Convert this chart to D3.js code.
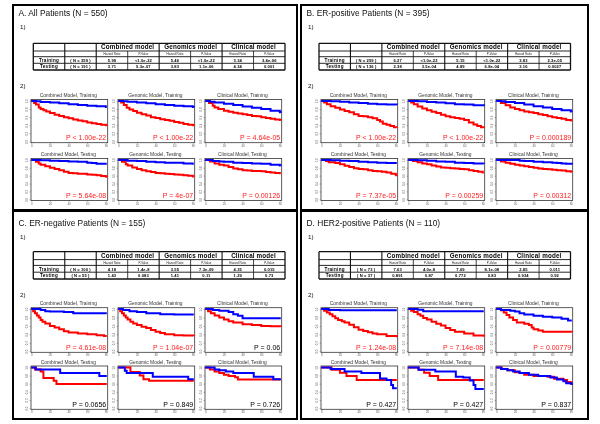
<!DOCTYPE html>
<html><head><meta charset="utf-8">
<script src="https://cdn.jsdelivr.net/npm/d3@7"></script>
<style>body{margin:0;background:#fff}svg{display:block;will-change:transform;-webkit-font-smoothing:antialiased}text{font-family:"Liberation Sans",Arial,sans-serif}</style>
</head><body><svg id="c" width="600" height="424"></svg>
<script>
// ---------------- DATA ----------------
const panelTitles = ["A. All Patients (N = 550)", "B. ER-positive Patients (N = 395)", "C. ER-negative Patients (N = 155)", "D. HER2-positive Patients (N = 110)"];
const modelNames = ["Combined model", "Genomics model", "Clinical model"];
const subHeaders = ["Hazard Ratio", "P-Value"];
const plotTitles = ["Combined Model, Training", "Genomic Model, Training", "Clinical Model, Training", "Combined Model, Testing", "Genomic Model, Testing", "Clinical Model, Testing"];
const xTicks = [0, 20, 40, 60, 80];
const yTicks = [0, 0.2, 0.4, 0.6, 0.8, 1.0];

const tableA = [["Training", "( N = 359 )", "5.99", "<1.0e-22", "5.46", "<1.0e-22", "3.34", "3.4e-06"],
                ["Testing", "( N = 191 )", "3.71", "5.3e-07", "3.83", "1.1e-06", "4.34", "0.001"]];
const tableB = [["Training", "( N = 259 )", "6.27", "<1.0e-22", "5.15", "<1.0e-22", "3.83", "2.3e-05"],
                ["Testing", "( N = 136 )", "2.38", "3.5e-04", "4.89", "6.8e-04", "3.16", "0.0027"]];
const tableC = [["Training", "( N = 100 )", "4.18", "1.4e-8", "3.55", "7.3e-09", "4.35", "0.015"],
                ["Testing", "( N = 55 )", "1.43", "0.083", "1.41", "0.11", "1.29", "0.73"]];
const tableD = [["Training", "( N = 73 )", "7.63", "4.0e-8", "7.69", "8.1e-08", "2.85", "0.011"],
                ["Testing", "( N = 37 )", "0.891", "0.87", "0.772", "0.83", "0.934", "0.92"]];

const pA = ["P < 1.00e-22", "P < 1.00e-22", "P = 4.64e-05", "P = 5.64e-08", "P = 4e-07", "P = 0.00126"];
const pB = ["P < 1.00e-22", "P < 1.00e-22", "P = 0.000189", "P = 7.37e-05", "P = 0.00259", "P = 0.00312"];
const pC = ["P = 4.61e-08", "P = 1.04e-07", "P = 0.06", "P = 0.0656", "P = 0.849", "P = 0.726"];
const pD = ["P = 1.24e-08", "P = 7.14e-08", "P = 0.00779", "P = 0.427", "P = 0.427", "P = 0.837"];

// survival curves [time, survival] : high-risk (red) and low-risk (blue)
const redA = [
 [[0,1],[3,0.95],[5,0.91],[8,0.84],[10,0.80],[13,0.77],[16,0.74],[20,0.70],[25,0.66],[30,0.63],[35,0.60],[40,0.57],[45,0.54],[50,0.52],[55,0.50],[60,0.47],[65,0.45],[70,0.43],[75,0.41],[80,0.40],[81,0.39]],
 [[0,1],[3,0.96],[6,0.90],[9,0.83],[12,0.79],[16,0.75],[20,0.71],[25,0.67],[30,0.64],[35,0.60],[40,0.58],[45,0.55],[50,0.53],[55,0.51],[60,0.48],[65,0.46],[70,0.43],[75,0.41],[80,0.40],[81,0.39]],
 [[0,1],[4,0.95],[8,0.88],[10,0.84],[14,0.80],[20,0.76],[25,0.73],[30,0.71],[35,0.69],[40,0.67],[45,0.65],[50,0.63],[55,0.62],[60,0.60],[65,0.58],[70,0.56],[75,0.54],[80,0.53],[81,0.52]],
 [[0,1],[5,0.95],[8,0.91],[10,0.88],[15,0.84],[20,0.80],[25,0.77],[30,0.74],[35,0.70],[40,0.67],[45,0.66],[50,0.65],[60,0.63],[65,0.62],[70,0.61],[75,0.59],[80,0.57],[81,0.56]],
 [[0,1],[4,0.95],[8,0.89],[10,0.86],[15,0.81],[20,0.77],[25,0.74],[30,0.71],[35,0.69],[40,0.67],[45,0.66],[50,0.65],[55,0.64],[60,0.63],[65,0.62],[70,0.61],[75,0.60],[80,0.58],[81,0.57]],
 [[0,1],[5,0.96],[10,0.91],[15,0.88],[20,0.86],[25,0.82],[30,0.78],[35,0.76],[40,0.74],[45,0.73],[50,0.72],[60,0.71],[65,0.69],[70,0.68],[75,0.67],[80,0.66],[81,0.66]]
];
const blueA = [
 [[0,1],[5,0.99],[10,0.97],[20,0.96],[30,0.94],[40,0.92],[50,0.90],[60,0.88],[70,0.87],[80,0.85],[81,0.85]],
 [[0,1],[5,0.99],[10,0.98],[20,0.96],[30,0.94],[40,0.92],[50,0.90],[60,0.88],[70,0.87],[80,0.85],[81,0.84]],
 [[0,1],[5,0.98],[10,0.96],[20,0.93],[30,0.90],[40,0.86],[50,0.83],[60,0.80],[70,0.76],[80,0.72],[81,0.71]],
 [[0,1],[10,0.99],[20,0.98],[30,0.97],[40,0.96],[50,0.95],[60,0.93],[65,0.92],[70,0.90],[81,0.90]],
 [[0,1],[10,0.98],[20,0.97],[30,0.95],[40,0.94],[50,0.93],[60,0.93],[70,0.91],[80,0.90],[81,0.90]],
 [[0,1],[8,0.97],[15,0.96],[20,0.95],[30,0.93],[40,0.92],[50,0.91],[60,0.90],[70,0.88],[80,0.86],[81,0.85]]
];
const redB = [
 [[0,1],[3,0.96],[6,0.92],[10,0.87],[15,0.83],[20,0.79],[25,0.75],[30,0.72],[35,0.67],[40,0.63],[45,0.62],[50,0.60],[55,0.57],[60,0.53],[63,0.49],[66,0.44],[70,0.41],[74,0.38],[78,0.35],[81,0.34]],
 [[0,1],[3,0.96],[6,0.92],[10,0.86],[15,0.81],[20,0.77],[25,0.73],[30,0.70],[35,0.66],[40,0.62],[45,0.60],[50,0.58],[55,0.56],[60,0.53],[65,0.47],[70,0.42],[74,0.38],[78,0.35],[81,0.34]],
 [[0,1],[5,0.95],[10,0.89],[15,0.84],[20,0.80],[25,0.77],[30,0.74],[35,0.72],[40,0.70],[45,0.67],[50,0.65],[55,0.62],[60,0.60],[65,0.58],[70,0.56],[75,0.53],[80,0.52],[81,0.51]],
 [[0,1],[5,0.97],[8,0.94],[15,0.92],[20,0.89],[25,0.85],[30,0.82],[35,0.79],[40,0.77],[45,0.76],[50,0.74],[55,0.72],[60,0.71],[65,0.70],[70,0.68],[75,0.65],[80,0.61],[81,0.60]],
 [[0,1],[5,0.97],[10,0.94],[15,0.91],[20,0.89],[25,0.86],[30,0.83],[35,0.81],[40,0.80],[45,0.79],[50,0.78],[55,0.77],[60,0.76],[65,0.74],[70,0.72],[75,0.70],[80,0.68],[81,0.68]],
 [[0,1],[5,0.96],[10,0.93],[15,0.90],[20,0.88],[25,0.86],[30,0.84],[35,0.82],[40,0.80],[45,0.78],[50,0.77],[55,0.76],[60,0.75],[65,0.74],[70,0.73],[75,0.71],[80,0.70],[81,0.69]]
];
const blueB = [
 [[0,1],[10,0.99],[20,0.98],[30,0.96],[40,0.95],[50,0.93],[60,0.92],[70,0.91],[81,0.90]],
 [[0,1],[10,0.99],[20,0.97],[30,0.96],[40,0.94],[50,0.92],[60,0.91],[70,0.89],[81,0.87]],
 [[0,1],[5,0.99],[10,0.97],[20,0.95],[30,0.91],[40,0.87],[50,0.84],[60,0.80],[70,0.77],[80,0.74],[81,0.73]],
 [[0,1],[10,0.99],[20,0.98],[30,0.97],[40,0.95],[50,0.94],[60,0.93],[70,0.92],[81,0.92]],
 [[0,1],[10,0.99],[20,0.98],[30,0.96],[40,0.95],[50,0.93],[60,0.92],[70,0.91],[81,0.90]],
 [[0,1],[20,1.0],[25,0.98],[30,0.97],[40,0.95],[50,0.94],[60,0.93],[65,0.92],[70,0.91],[75,0.90],[81,0.88]]
];
const redC = [
 [[0,1],[2,0.95],[4,0.90],[6,0.85],[8,0.80],[10,0.74],[12,0.70],[15,0.66],[20,0.60],[25,0.56],[30,0.52],[35,0.47],[40,0.44],[50,0.42],[60,0.40],[70,0.38],[78,0.36],[81,0.36]],
 [[0,1],[2,0.95],[4,0.90],[6,0.85],[8,0.80],[10,0.75],[13,0.70],[16,0.66],[20,0.62],[25,0.58],[30,0.55],[35,0.50],[40,0.46],[45,0.43],[50,0.40],[60,0.38],[70,0.37],[81,0.36]],
 [[0,1],[3,0.95],[6,0.90],[10,0.85],[15,0.80],[20,0.75],[25,0.71],[30,0.68],[40,0.64],[50,0.62],[60,0.60],[70,0.59],[81,0.58]],
 [[0,1],[4,0.95],[10,0.90],[13,0.74],[24,0.67],[27,0.59],[81,0.59]],
 [[0,1],[13,0.89],[23,0.80],[27,0.71],[33,0.67],[81,0.67]],
 [[0,1],[5,0.95],[10,0.90],[15,0.86],[20,0.82],[25,0.79],[32,0.76],[35,0.70],[81,0.70]]
];
const blueC = [
 [[0,1],[10,0.98],[15,0.95],[20,0.94],[35,0.93],[45,0.90],[81,0.90]],
 [[0,1],[5,0.98],[12,0.95],[20,0.93],[30,0.90],[45,0.88],[60,0.87],[81,0.87]],
 [[0,1],[8,0.98],[15,0.96],[25,0.93],[30,0.88],[35,0.84],[40,0.78],[81,0.78]],
 [[0,1],[5,0.95],[31,0.86],[73,0.79],[81,0.79]],
 [[0,1],[7,0.92],[9,0.86],[37,0.77],[75,0.71],[81,0.71]],
 [[0,1],[10,0.95],[15,0.93],[22,0.90],[30,0.86],[52,0.77],[73,0.71],[81,0.71]]
];
const redD = [
 [[0,1],[3,0.96],[6,0.92],[9,0.88],[12,0.83],[15,0.78],[18,0.74],[22,0.71],[25,0.68],[30,0.63],[35,0.57],[40,0.51],[45,0.48],[50,0.45],[55,0.42],[60,0.40],[70,0.36],[81,0.33]],
 [[0,1],[3,0.96],[6,0.93],[10,0.88],[13,0.84],[16,0.79],[20,0.75],[25,0.70],[30,0.65],[35,0.61],[40,0.55],[45,0.50],[50,0.46],[60,0.42],[70,0.37],[81,0.34]],
 [[0,1],[5,0.97],[8,0.92],[11,0.86],[14,0.80],[18,0.74],[22,0.68],[30,0.65],[35,0.62],[38,0.56],[40,0.52],[45,0.49],[50,0.46],[81,0.45]],
 [[0,1],[11,0.94],[20,0.87],[27,0.79],[38,0.69],[81,0.69]],
 [[0,1],[11,0.94],[17,0.87],[23,0.79],[32,0.69],[81,0.69]],
 [[0,1],[6,0.96],[12,0.93],[20,0.88],[25,0.86],[30,0.82],[40,0.79],[55,0.77],[62,0.72],[72,0.69],[76,0.64],[80,0.60],[81,0.60]]
];
const blueD = [
 [[0,1],[8,0.98],[20,0.975],[81,0.975]],
 [[0,1],[10,0.985],[16,0.95],[81,0.95]],
 [[0,1],[5,0.98],[15,0.96],[20,0.94],[25,0.90],[30,0.87],[40,0.84],[50,0.82],[60,0.80],[70,0.77],[77,0.73],[81,0.73]],
 [[0,1],[10,0.96],[25,0.90],[43,0.86],[63,0.73],[70,0.69],[75,0.57],[77,0.49],[81,0.49]],
 [[0,1],[11,0.94],[29,0.90],[51,0.77],[59,0.75],[66,0.68],[70,0.57],[72,0.47],[81,0.47]],
 [[0,1],[5,0.96],[12,0.93],[18,0.90],[25,0.86],[35,0.82],[45,0.79],[58,0.75],[65,0.70],[72,0.66],[75,0.61],[81,0.57]]
];

// ---------------- LAYOUT ----------------
const topRow = {title: 15.5, one: 29, tTop: 43.3, rowH: [7.7, 5.7, 6.6, 6.7], two: 87.5, r1: [99.5, 142.7], r2: [158.5, 200.5]};
const botRow = {title: 225.5, one: 238.5, tTop: 251.7, rowH: [7.9, 5.8, 6.8, 6.8], two: 296.5, r1: [307.7, 352.3], r2: [366, 409.3]};
const leftCol = {x0: 13, x1: 297, tL: 33.3, tR: 285, plots: [31, 118, 205], w: 76.7};
const rightCol = {x0: 301, x1: 588, tL: 319, tR: 570.5, plots: [321, 408, 496], w: 76.7};

const panels = [
  {col: leftCol, row: topRow, y0: 5, y1: 210, title: panelTitles[0], table: tableA, red: redA, blue: blueA, p: pA},
  {col: rightCol, row: topRow, y0: 5, y1: 210, title: panelTitles[1], table: tableB, red: redB, blue: blueB, p: pB},
  {col: leftCol, row: botRow, y0: 211, y1: 419, title: panelTitles[2], table: tableC, red: redC, blue: blueC, p: pC},
  {col: rightCol, row: botRow, y0: 211, y1: 419, title: panelTitles[3], table: tableD, red: redD, blue: blueD, p: pD}
];

const svg = d3.select("#c");
svg.append("rect").attr("width", 600).attr("height", 424).attr("fill", "#fff");

function drawTable(g, L, R, T, rowH, rows) {
  const cw = (R - L) / 8;
  const ys = [T]; rowH.forEach(h => ys.push(ys[ys.length - 1] + h));
  const B = ys[4];
  ys.forEach((y, i) => g.append("line").attr("x1", L).attr("x2", R).attr("y1", y).attr("y2", y)
      .attr("stroke", "#111").attr("stroke-width", (i === 0 || i === 4) ? 1.3 : 0.9));
  for (let c = 0; c <= 8; c++) {
    const x = L + c * cw;
    const inner = (c === 3 || c === 5 || c === 7);
    g.append("line").attr("x1", x).attr("x2", x).attr("y1", inner ? ys[1] : T).attr("y2", B)
      .attr("stroke", "#111").attr("stroke-width", (c === 0 || c === 8) ? 1.3 : (inner ? 0.8 : 1.1));
  }
  modelNames.forEach((m, i) => {
    g.append("text").attr("x", L + (2 + 2 * i + 1) * cw).attr("y", ys[1] - 1.8).attr("fill", "#000")
      .attr("text-anchor", "middle").attr("font-size", 6.3).attr("font-weight", "bold").attr("letter-spacing", 0.15).text(m);
    subHeaders.forEach((s, j) => {
      g.append("text").attr("x", L + (2 + 2 * i + j + 0.5) * cw).attr("y", ys[2] - 1.6)
        .attr("text-anchor", "middle").attr("font-size", 2.9).attr("fill", "#222").text(s);
    });
  });
  rows.forEach((r, ri) => {
    r.forEach((v, ci) => {
      g.append("text").attr("x", L + (ci + 0.5) * cw).attr("y", ys[ri + 3] - 1.7).attr("fill", "#000")
        .attr("text-anchor", "middle").attr("font-size", ci === 0 ? 4.6 : 4.1).attr("font-weight", "bold")
        .attr("letter-spacing", ci === 0 ? 0.3 : 0.1).text(v);
    });
  });
}

function drawKM(g, x0, top, bot, w, title, red, blue, ptxt) {
  const x = d3.scaleLinear().domain([0, 82]).range([x0 + 0.3, x0 + w]);
  const y = d3.scaleLinear().domain([0, 1]).range([bot - 1.2, top + 1.4]);
  const line = d3.line().x(d => x(d[0])).y(d => y(d[1])).curve(d3.curveStepAfter);
  g.append("text").attr("x", x0 + w / 2 - 1).attr("y", top - 2.3).attr("text-anchor", "middle")
    .attr("font-size", 4.9).attr("fill", "#333").text(title);
  const ya = g.append("g").attr("transform", `translate(${x0},0)`)
    .call(d3.axisLeft(y).tickValues(yTicks).tickSize(1.5).tickFormat(d3.format(".1f")));
  ya.select(".domain").remove();
  ya.selectAll("line").attr("stroke", "#777").attr("stroke-width", 0.5);
  ya.selectAll("text").attr("font-size", 2.8).attr("fill", "#666").attr("x", 0).attr("dy", 0)
    .attr("text-anchor", "middle").attr("transform", "translate(-2.6,0) rotate(-90)");
  const xa = g.append("g").attr("transform", `translate(0,${bot})`)
    .call(d3.axisBottom(x).tickValues(xTicks).tickSize(1.5));
  xa.select(".domain").remove();
  xa.selectAll("line").attr("stroke", "#777").attr("stroke-width", 0.5);
  xa.selectAll("text").attr("font-size", 3).attr("fill", "#666").attr("y", 2).attr("dy", "0.71em");
  g.append("rect").attr("x", x0).attr("y", top).attr("width", w).attr("height", bot - top)
    .attr("fill", "none").attr("stroke", "#333").attr("stroke-width", 0.8);
  g.append("path").datum(red).attr("d", line).attr("fill", "none").attr("stroke", "#ff0000").attr("stroke-width", 2);
  g.append("path").datum(blue).attr("d", line).attr("fill", "none").attr("stroke", "#0000ff").attr("stroke-width", 2);
  const pv = parseFloat(ptxt.replace(/^P\s*[<=]\s*/, ""));
  g.append("text").attr("x", x0 + w - 1.5).attr("y", bot - 2.6).attr("text-anchor", "end")
    .attr("font-size", 7).attr("fill", pv < 0.05 ? "#ff1a1a" : "#000").text(ptxt);
}

panels.forEach(p => {
  const g = svg.append("g");
  const c = p.col, r = p.row;
  g.append("rect").attr("x", c.x0).attr("y", p.y0).attr("width", c.x1 - c.x0).attr("height", p.y1 - p.y0)
    .attr("fill", "none").attr("stroke", "#000").attr("stroke-width", 2);
  g.append("text").attr("x", c.x0 + 5.5).attr("y", r.title).attr("font-size", 8.4).attr("fill", "#111").text(p.title);
  g.append("text").attr("x", c.x0 + 7).attr("y", r.one).attr("font-size", 6.2).attr("fill", "#111").text("1)");
  g.append("text").attr("x", c.x0 + 7).attr("y", r.two).attr("font-size", 6.2).attr("fill", "#111").text("2)");
  drawTable(g, c.tL, c.tR, r.tTop, r.rowH, p.table);
  for (let i = 0; i < 6; i++) {
    const rr = i < 3 ? r.r1 : r.r2;
    drawKM(g, c.plots[i % 3], rr[0], rr[1], c.w, plotTitles[i], p.red[i], p.blue[i], p.p[i]);
  }
});
</script>
</body></html>
